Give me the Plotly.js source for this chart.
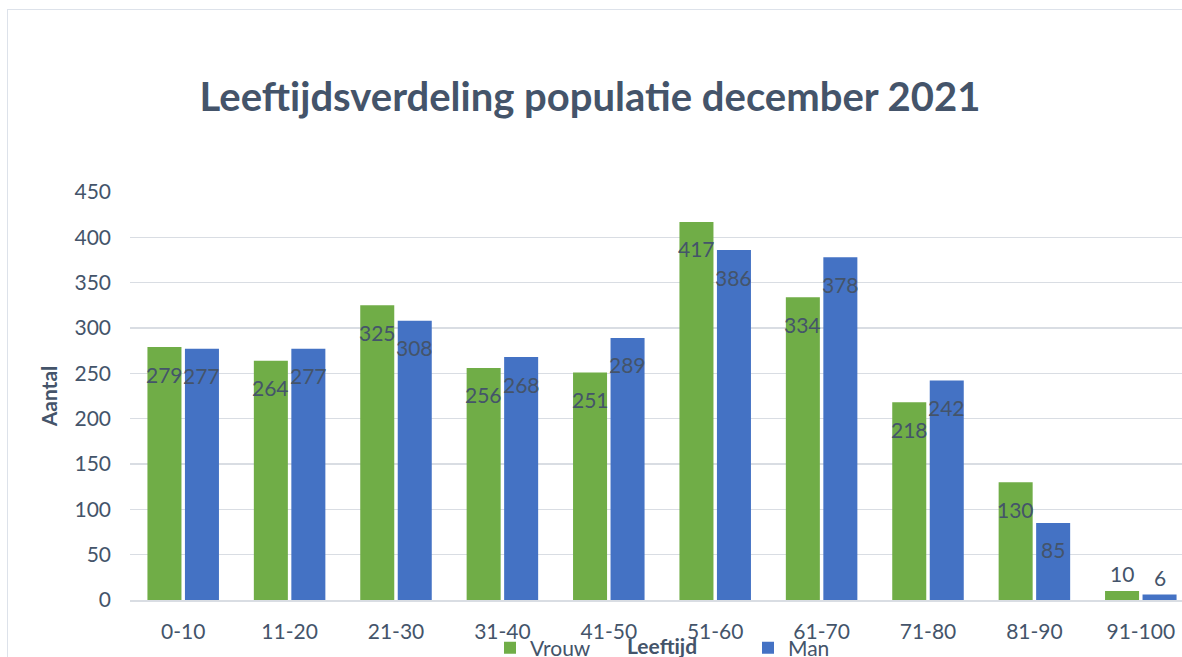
<!DOCTYPE html>
<html>
<head>
<meta charset="utf-8">
<script src="https://cdn.plot.ly/plotly-3.0.1.min.js"></script>
<style>
    html, body { margin: 0; padding: 0; background: #fff; overflow: hidden; }
    #chart { position: absolute; left: 7px; top: 9px; border: 1.5px solid #dde2ea; }
</style>
</head>
<body>
<div id="chart"></div>
<script>
var categories = ['0-10', '11-20', '21-30', '31-40', '41-50', '51-60', '61-70', '71-80', '81-90', '91-100'];
var vrouw = [279, 264, 325, 256, 251, 417, 334, 218, 130, 10];
var man = [277, 277, 308, 268, 289, 386, 378, 242, 85, 6];
var yTicks = [0, 50, 100, 150, 200, 250, 300, 350, 400, 450];

var W = 1200;
var H = 690;
var textColor = '#44546a';
var font = 'Lato, "Open Sans", sans-serif';

var traceVrouw = {
    x: categories,
    y: vrouw,
    type: 'bar',
    name: 'Vrouw',
    marker: { color: '#70ad47' },
    hoverinfo: 'skip'
};

var traceMan = {
    x: categories,
    y: man,
    type: 'bar',
    name: 'Man',
    marker: { color: '#4472c4' },
    hoverinfo: 'skip'
};

// data labels: inside near the top, above the bar when it is too short
var slot = 18.75;
var annotations = [];
function addLabels(values, shift) {
    for (var i = 0; i < values.length; i++) {
        var small = values[i] < 40;
        annotations.push({
            x: categories[i],
            y: values[i],
            xref: 'x',
            yref: 'y',
            text: String(values[i]),
            showarrow: false,
            xshift: shift,
            yanchor: small ? 'bottom' : 'middle',
            yshift: small ? 3 : -27,
            font: { family: font, size: 21, color: textColor }
        });
    }
}
addLabels(vrouw, -slot);
addLabels(man, slot);

// x axis title sits low, between the legend entries (as in the original)
annotations.push({
    xref: 'paper',
    yref: 'paper',
    x: 0.5,
    y: -45 / 408,
    xanchor: 'center',
    yanchor: 'middle',
    text: '<b>Leeftijd</b>',
    showarrow: false,
    font: { family: font, size: 21, color: textColor }
});

var layout = {
    width: W,
    height: H,
    barmode: 'group',
    bargap: 0.295,
    bargroupgap: 0.093,
    title: {
        text: '<b>Leeftijdsverdeling populatie december 2021</b>',
        font: { family: font, size: 40, color: textColor },
        xref: 'container',
        x: 582 / W,
        xanchor: 'center',
        yref: 'container',
        y: 1 - 87 / H,
        yanchor: 'middle'
    },
    xaxis: {
        type: 'category',
        tickfont: { family: font, size: 21, color: textColor },
        ticks: '',
        ticklabelstandoff: 12,
        showline: true,
        linecolor: '#d9dde3',
        linewidth: 1.5
    },
    yaxis: {
        range: [0, 450],
        tickvals: yTicks,
        tickfont: { family: font, size: 21, color: textColor },
        ticks: '',
        ticklabelstandoff: 18,
        showgrid: true,
        gridcolor: '#d9dde3',
        gridwidth: 1.5,
        zeroline: false,
        title: {
            text: '<b>Aantal</b>',
            font: { family: font, size: 21, color: textColor },
            standoff: 11
        }
    },
    legend: {
        orientation: 'h',
        xref: 'container',
        yref: 'container',
        x: 482 / W,
        xanchor: 'left',
        y: 1 - 638 / H,
        yanchor: 'middle',
        entrywidth: 213,
        font: { family: font, size: 21, color: textColor },
        bgcolor: 'rgba(0,0,0,0)'
    },
    annotations: annotations,
    margin: { l: 122, r: 14, t: 182, b: H - 590, pad: 0, autoexpand: false },
    plot_bgcolor: '#fff',
    paper_bgcolor: '#fff'
};

Plotly.newPlot('chart', [traceVrouw, traceMan], layout, { displayModeBar: false, staticPlot: true });
</script>
</body>
</html>
